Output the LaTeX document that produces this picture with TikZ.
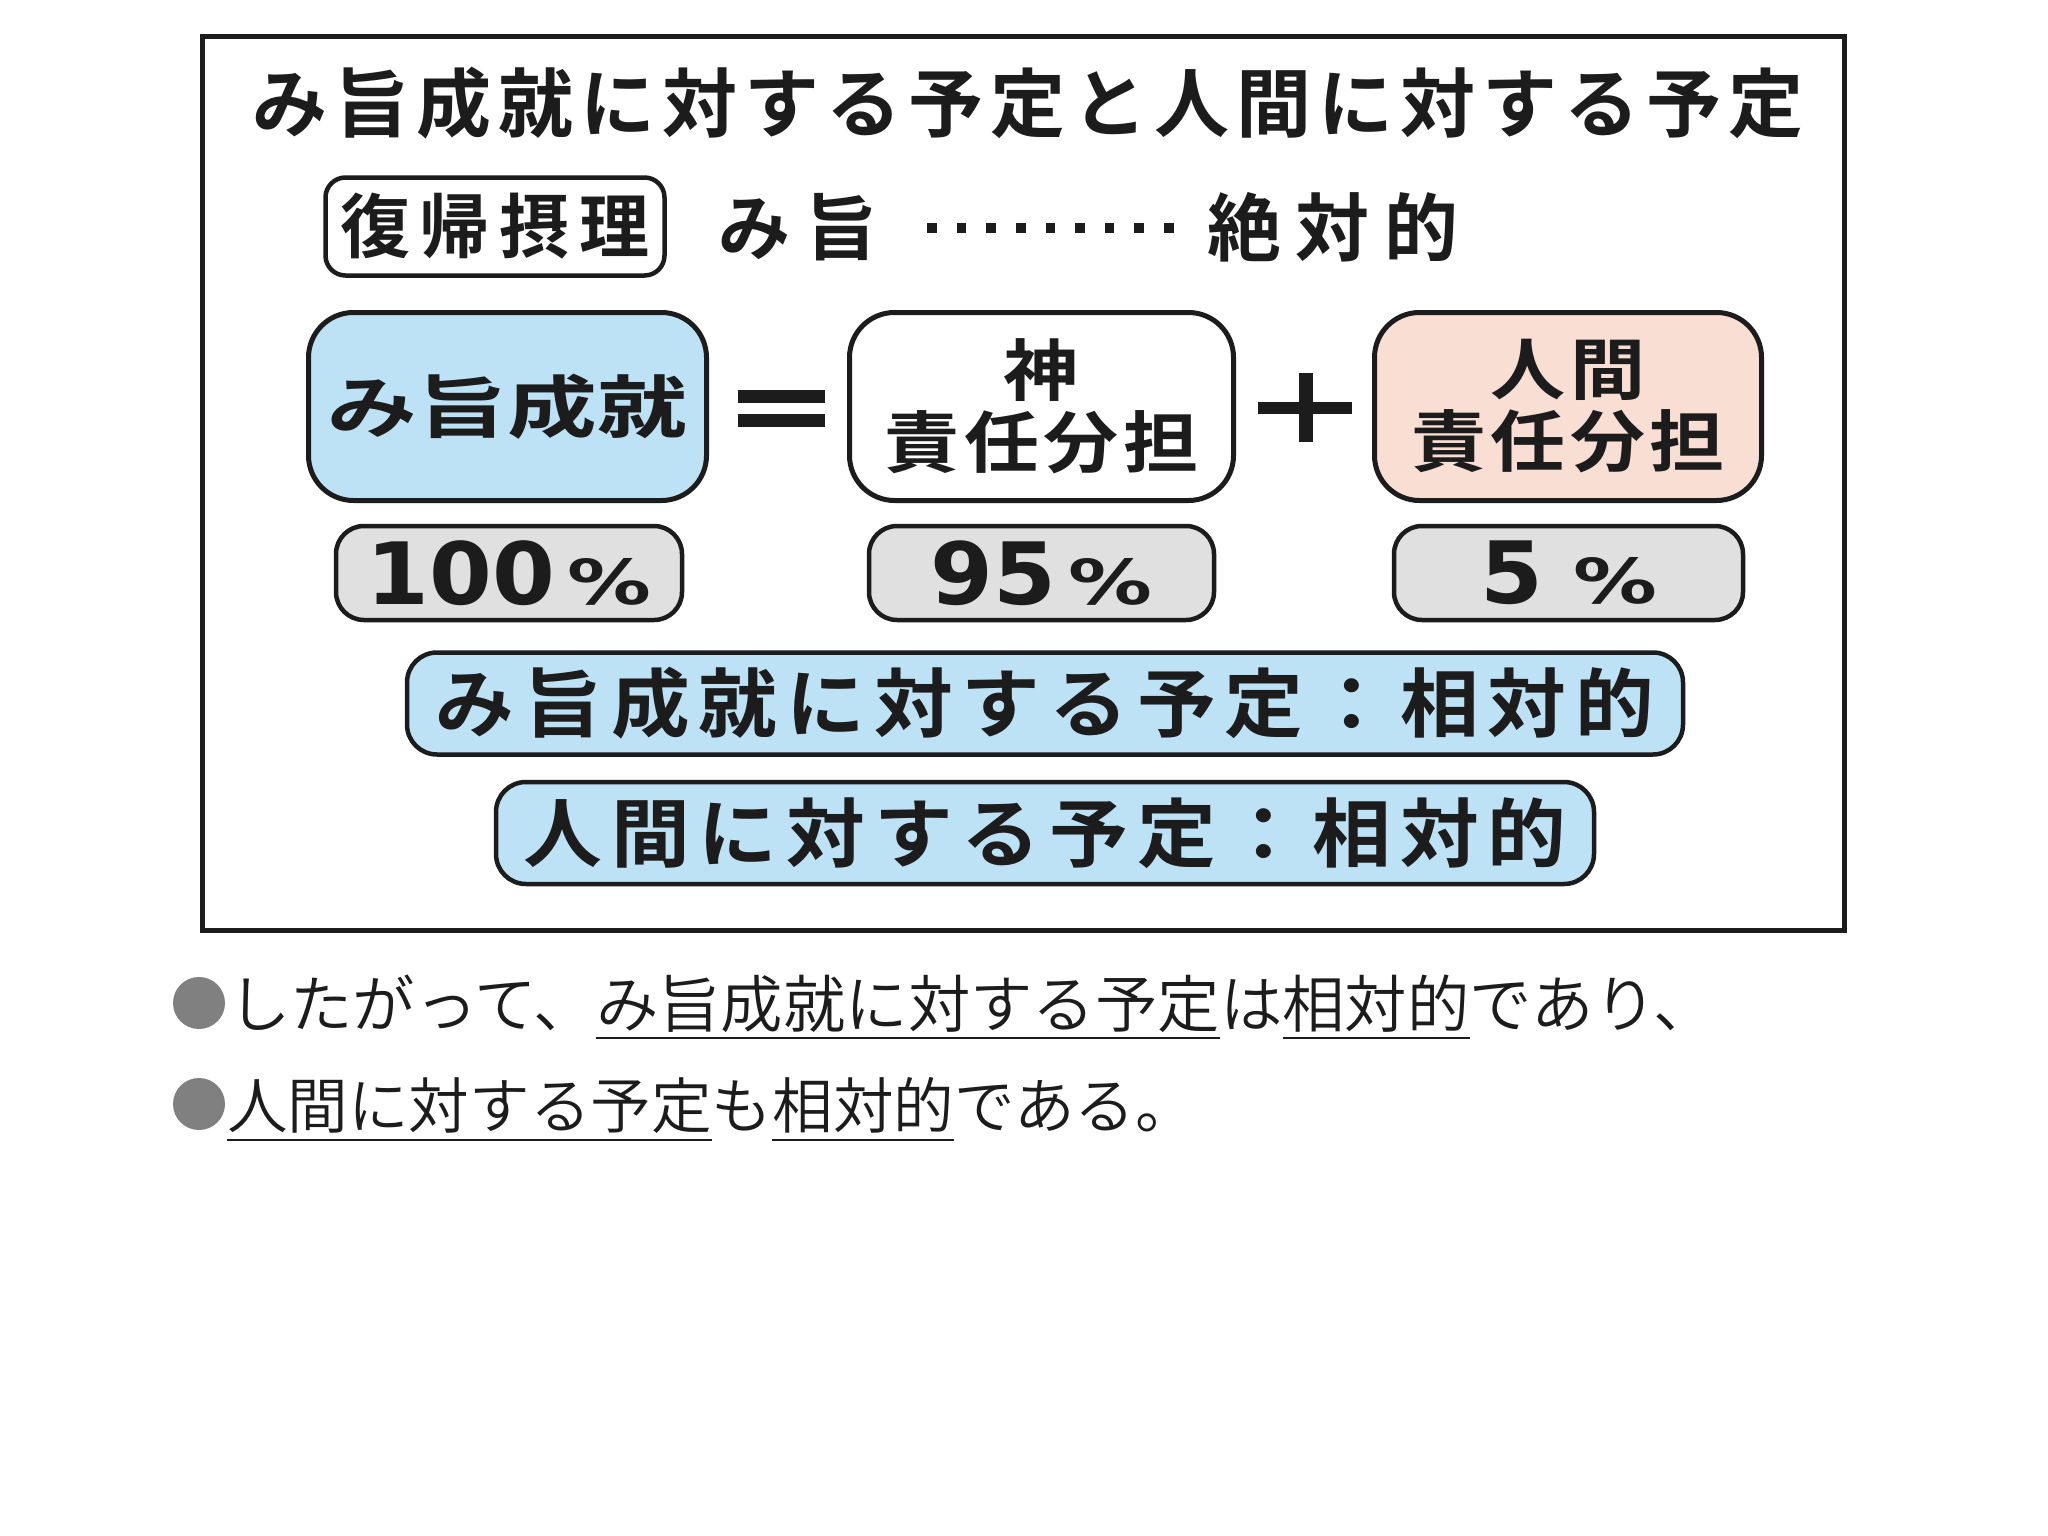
\documentclass[tikz,border=0pt]{standalone}
\usepackage{fontspec}
\IfFontExistsTF{Noto Sans CJK JP Bold}{\newfontfamily\jpb{Noto Sans CJK JP Bold}}{\newfontfamily\jpb{Noto Sans CJK JP}[FakeBold=2]}
\IfFontExistsTF{Noto Sans CJK JP DemiLight}{\newfontfamily\jpl{Noto Sans CJK JP DemiLight}}{\newfontfamily\jpl{Noto Sans CJK JP}}
\newfontfamily\numf{DejaVu Sans Bold}
\definecolor{ink}{HTML}{1C1C1C}
\definecolor{skyfill}{HTML}{BDE2F6}
\definecolor{pinkfill}{HTML}{F9DED4}
\definecolor{pctgray}{HTML}{E0E0E0}
\definecolor{bulletgray}{HTML}{808080}
\makeatletter
\newcommand\trk[2]{\begingroup\def\trk@sep{}\@tfor\trk@c:=#2\do{\trk@sep\trk@c\def\trk@sep{\hspace{#1}}}\endgroup}
\makeatother
\newcommand\pct[3]{\numf\fontsize{86}{86}\selectfont\scalebox{1.05}[1]{#1}\hspace{#2}\fontsize{62}{62}\selectfont\scalebox{#3}[1]{\%}}
\tikzset{
  txt/.style={inner sep=0pt, outer sep=0pt, text=ink},
  framebox/.style={draw=ink, line width=5pt, inner sep=0pt},
  bigbox/.style={draw=ink, line width=5pt, rounded corners=45pt, minimum height=188pt, inner sep=0pt, text=ink, align=center},
  pctbox/.style={draw=ink, line width=4.5pt, rounded corners=28pt, fill=pctgray, minimum height=94pt, inner sep=0pt, text=ink},
  bandbox/.style={draw=ink, line width=4.5pt, rounded corners=30pt, fill=skyfill, minimum height=102pt, inner sep=0pt, text=ink},
  tagbox/.style={draw=ink, line width=4.5pt, rounded corners=20pt, minimum height=98pt, inner sep=0pt, text=ink},
  uline/.style={draw=ink, line width=2.5pt},
  dotmark/.style={rectangle, fill=ink, inner sep=0pt, minimum size=9.5pt},
  bulletdisk/.style={circle, fill=bulletgray, inner sep=0pt, minimum size=52pt},
  barmark/.style={fill=ink, inner sep=0pt},
  boldjp/.style={font={\jpb\fontsize{#1}{#1}\selectfont}},
  lightjp/.style={font={\jpl\fontsize{#1}{70}\selectfont}, inner sep=0pt, outer sep=0pt, text=ink, anchor=base west}
}
\begin{document}
\begin{tikzpicture}[x=1pt,y=-1pt]
\useasboundingbox (0,0) rectangle (2048,1536);
\fill[white] (0,0) rectangle (2048,1536);

% outer frame
\node[framebox, minimum width=1642pt, minimum height=893pt] (frame) at (1023,483.5) {};

% title
\node[txt, boldjp=75] (title) at (1028,103) {\trk{7pt}{み旨成就に対する予定と人間に対する予定}};

% row 2
\node[tagbox, minimum width=339pt, boldjp=70] (tag) at (495,226.5) {\trk{10pt}{復帰摂理}};
\node[txt, boldjp=72] (mimune) at (798,227) {\trk{16pt}{み旨}};
\foreach \i in {0,...,8}{
  \node[dotmark] (d\i) at ({932+\i*29.6},228) {};
}
\node[txt, boldjp=74] (abs) at (1333,227) {\trk{15pt}{絶対的}};

% row 3
\node[bigbox, fill=skyfill, minimum width=398pt, boldjp=68] (mj) at (507.5,406.5) {\scalebox{1.32}[1]{\trk{0pt}{み旨成就}}};
\node[barmark, minimum width=87pt, minimum height=13pt] (eqa) at (781.5,396) {};
\node[barmark, minimum width=87pt, minimum height=13pt] (eqb) at (781.5,420) {};
\node[bigbox, fill=white, minimum width=384pt, font={\jpb\fontsize{67}{72}\selectfont}] (god) at (1041.5,406.5) {\scalebox{1.12}[1]{神}\\\scalebox{1.12}[1]{\trk{4pt}{責任分担}}};
\node[barmark, minimum width=94pt, minimum height=12pt] (plh) at (1305,407.5) {};
\node[barmark, minimum width=14pt, minimum height=69pt] (plv) at (1305.5,407.5) {};
\node[bigbox, fill=pinkfill, minimum width=387pt, font={\jpb\fontsize{67}{72}\selectfont}] (man) at (1568,406.5) {\scalebox{1.12}[1]{\trk{4pt}{人間}}\\\scalebox{1.12}[1]{\trk{4pt}{責任分担}}};

% row 4
\node[pctbox, minimum width=346pt] (p1) at (509,573) {\pct{100}{12pt}{1.35}};
\node[pctbox, minimum width=345pt] (p2) at (1041.5,573) {\pct{95}{12pt}{1.35}};
\node[pctbox, minimum width=349pt] (p3) at (1568.5,573) {\pct{5}{30pt}{1.35}};

% rows 5, 6
\node[bandbox, minimum width=1276pt, boldjp=75] (band1) at (1045,703.5) {\scalebox{1.05}[1]{\trk{8.5pt}{み旨成就に対する予定：相対的}}};
\node[bandbox, minimum width=1098pt, boldjp=75] (band2) at (1045,833) {\scalebox{1.05}[1]{\trk{8.5pt}{人間に対する予定：相対的}}};

% bottom text
\node[bulletdisk] (b1) at (199,1003) {};
\node[bulletdisk] (b2) at (199,1104) {};
\node[lightjp=62.4] (l1a) at (228,1027) {したがって、};
\node[lightjp=62.4] (l1b) at (l1a.base east) {み旨成就に対する予定};
\node[lightjp=62.4] (l1c) at (l1b.base east) {は};
\node[lightjp=62.4] (l1d) at (l1c.base east) {相対的};
\node[lightjp=62.4] (l1e) at (l1d.base east) {であり、};
\node[lightjp=60.6] (l2a) at (227,1128) {人間に対する予定};
\node[lightjp=60.6] (l2b) at (l2a.base east) {も};
\node[lightjp=60.6] (l2c) at (l2b.base east) {相対的};
\node[lightjp=60.6] (l2d) at (l2c.base east) {である。};
\draw[uline] ([yshift=-11pt]l1b.base west) -- ([yshift=-11pt]l1b.base east);
\draw[uline] ([yshift=-11pt]l1d.base west) -- ([yshift=-11pt]l1d.base east);
\draw[uline] ([yshift=-12pt]l2a.base west) -- ([yshift=-12pt]l2a.base east);
\draw[uline] ([yshift=-12pt]l2c.base west) -- ([yshift=-12pt]l2c.base east);
\end{tikzpicture}
\end{document}
